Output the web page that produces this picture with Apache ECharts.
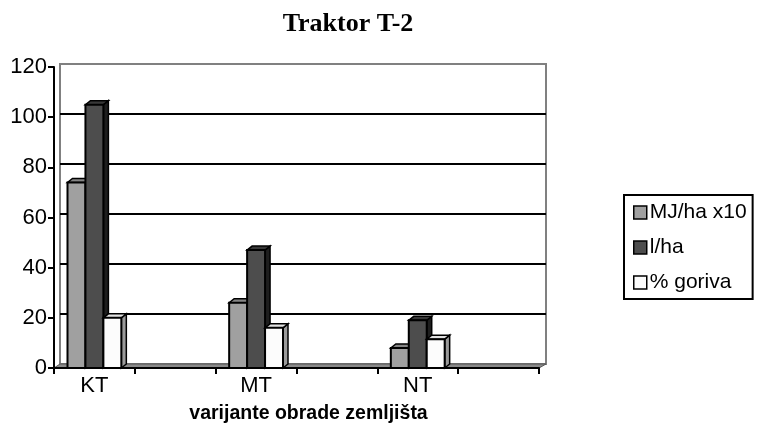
<!DOCTYPE html>
<html>
<head>
<meta charset="utf-8">
<script src="https://cdn.jsdelivr.net/npm/echarts@6/dist/echarts.min.js"></script>
<style>html,body{margin:0;padding:0;background:#fff}#c{width:757px;height:441px}</style>
</head>
<body>
<div id="c"></div>
<script>
// ---- data ----
var categories = ['KT', 'MT', 'NT'];
var seriesNames = ['MJ/ha x10', 'l/ha', '% goriva'];
var mjHa = [74, 26, 8];
var lHa = [105, 47, 19];
var goriva = [20, 16, 11.5];
var yTicks = [0, 20, 40, 60, 80, 100, 120];

// axis slots: each category followed by an empty slot
var axisSlots = [];
categories.forEach(function (c) { axisSlots.push(c); axisSlots.push(''); });

function toPairs(arr) { return arr.map(function (v, i) { return [i * 2, v]; }); }

var styles = [
  { front: '#a0a0a0', top: '#858585', side: '#6e6e6e' },
  { front: '#4d4d4d', top: '#383838', side: '#1e1e1e' },
  { front: '#fcfcfc', top: '#e2e2e2', side: '#9a9a9a' }
];

function makeRender(k) {
  return function (params, api) {
    var idx = api.value(0), val = api.value(1);
    var base = api.coord([idx, 0]);
    var top = api.coord([idx, val]);
    var band = api.size([1, 0])[0];
    var bw = band * 0.222;
    var x0 = base[0] - 1.5 * bw + k * bw, x1 = x0 + bw;
    var yT = top[1], yB = base[1];
    var dx = 5, dy = 4;
    var s = styles[k];
    return {
      type: 'group',
      children: [
        { type: 'polygon', shape: { points: [[x1, yB], [x1, yT], [x1 + dx, yT - dy], [x1 + dx, yB - dy]] },
          style: { fill: s.side, stroke: '#000', lineWidth: 1.5 } },
        { type: 'polygon', shape: { points: [[x0, yT], [x1, yT], [x1 + dx, yT - dy], [x0 + dx, yT - dy]] },
          style: { fill: s.top, stroke: '#000', lineWidth: 1.5 } },
        { type: 'rect', shape: { x: x0, y: yT, width: bw, height: yB - yT },
          style: { fill: s.front, stroke: '#000', lineWidth: 2 } }
      ]
    };
  };
}

var allData = [mjHa, lHa, goriva];
var series = allData.map(function (arr, k) {
  return {
    name: seriesNames[k],
    type: 'custom',
    xAxisIndex: 0, yAxisIndex: 0,
    renderItem: makeRender(k),
    itemStyle: { color: styles[k].front },
    encode: { x: 0, y: 1 },
    data: toPairs(arr),
    z: 3
  };
});

var chart = echarts.init(document.getElementById('c'), null, { renderer: 'canvas' });
chart.setOption({
  animation: false,
  backgroundColor: '#fff',
  title: {
    text: 'Traktor T-2',
    left: 348, top: 11, textAlign: 'center', padding: 0,
    textStyle: { fontFamily: 'Liberation Serif', fontWeight: 'bold', fontSize: 26, color: '#000' }
  },
  legend: {
    orient: 'vertical',
    left: 624, top: 195,
    padding: [7, 6, 6, 9],
    itemGap: 14,
    itemWidth: 13, itemHeight: 13,
    icon: 'rect',
    borderColor: '#000', borderWidth: 2,
    itemStyle: { borderColor: '#000', borderWidth: 1.5 },
    textStyle: { fontFamily: 'Liberation Sans', fontSize: 21, color: '#000', padding: [0, 0, 0, -2] },
    data: seriesNames
  },
  grid: [
    { left: 54, top: 67, right: 218, bottom: 73, show: false },
    { left: 60, top: 64, right: 211, bottom: 77, show: true, borderColor: '#808080', borderWidth: 2, backgroundColor: '#fff', z: 0 }
  ],
  xAxis: [
    {
      type: 'category', gridIndex: 0, data: axisSlots,
      boundaryGap: true,
      axisLine: { lineStyle: { color: '#000', width: 2 } },
      axisTick: { show: true, interval: 0, length: 6, lineStyle: { color: '#000', width: 2 } },
      axisLabel: { interval: 0, margin: 7, fontFamily: 'Liberation Sans', fontSize: 22, color: '#000' },
      name: 'varijante obrade zemljišta',
      nameLocation: 'middle', nameGap: 36,
      nameTextStyle: { fontFamily: 'Liberation Sans', fontWeight: 'bold', fontSize: 19.5, color: '#000', padding: [0, 0, 0, 24] },
      z: 4
    },
    { type: 'value', gridIndex: 1, show: false, min: 0, max: 1 }
  ],
  yAxis: [
    {
      type: 'value', gridIndex: 0, min: 0, max: 120, interval: 20,
      axisLine: { show: true, lineStyle: { color: '#000', width: 2 } },
      axisTick: { show: true, length: 6, lineStyle: { color: '#000', width: 2 } },
      axisLabel: { margin: 7, fontFamily: 'Liberation Sans', fontSize: 22, color: '#000',
        formatter: function (v) { return yTicks.indexOf(v) >= 0 ? String(v) : ''; } },
      splitLine: { show: false },
      z: 4
    },
    {
      type: 'value', gridIndex: 1, min: 0, max: 120, interval: 20,
      axisLine: { show: false }, axisTick: { show: false }, axisLabel: { show: false },
      splitLine: { show: true, showMinLine: false, showMaxLine: false, lineStyle: { color: '#000', width: 2 } }
    }
  ],
  graphic: [
    {
      type: 'polygon', z: 1, silent: true,
      shape: { points: [[54, 368], [539, 368], [546, 364], [60, 364]] },
      style: { fill: '#8a8a8a', stroke: '#555', lineWidth: 1 }
    }
  ],
  series: series
});
</script>
</body>
</html>
